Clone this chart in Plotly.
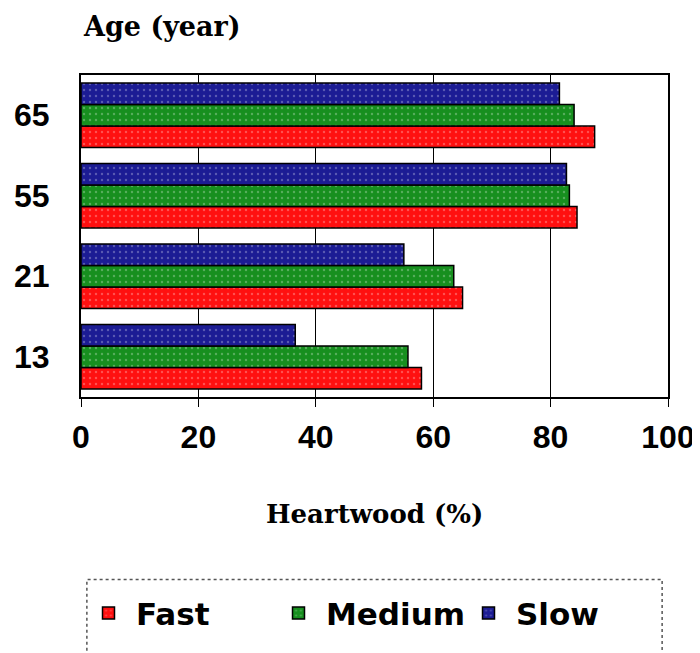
import plotly.graph_objects as go

ages = ["13", "21", "55", "65"]
fast = [58, 65, 84.5, 87.5]
medium = [55.7, 63.5, 83.2, 84]
slow = [36.5, 55, 82.7, 81.5]
series_names = ["Fast", "Medium", "Slow"]
colors = ["#ff1010", "#178f1f", "#1c1c94"]
x_ticks = [0, 20, 40, 60, 80, 100]

fig = go.Figure()
for name, vals, col in zip(series_names, [fast, medium, slow], colors):
    fig.add_trace(go.Bar(
        y=ages, x=vals, name=name, orientation="h",
        marker=dict(color=col, line=dict(color="black", width=1.5),
                    pattern=dict(shape=".", fgcolor="rgba(255,255,255,0.55)", size=6, solidity=0.12)),
    ))

fig.update_layout(
    width=692, height=645,
    margin=dict(l=73, r=32, t=67, b=248),
    paper_bgcolor="white", plot_bgcolor="white",
    barmode="group", bargap=0.2, bargroupgap=0,
    showlegend=True,
    legend=dict(orientation="h", x=0.0, y=-0.672, xanchor="left", yanchor="middle",
                entrywidth=130, entrywidthmode="pixels", traceorder="normal", itemwidth=45,
                font=dict(family="DejaVu Sans", size=31, color="black", weight="bold"),
                bgcolor="rgba(0,0,0,0)", borderwidth=0),
    xaxis=dict(range=[0, 100], tickvals=x_ticks, showgrid=True, gridcolor="black", gridwidth=1,
               showline=True, linecolor="black", linewidth=2, mirror=True,
               ticks="outside", ticklen=8, tickcolor="black", zeroline=False,
               tickfont=dict(family="Liberation Sans", size=32, color="black", weight="bold"),
               ticklabelstandoff=3, automargin=False),
    yaxis=dict(categoryorder="array", categoryarray=ages, showgrid=False,
               showline=True, linecolor="black", linewidth=2, mirror=True,
               ticks="", ticklabelstandoff=23, automargin=False,
               tickfont=dict(family="Liberation Sans", size=32, color="black", weight="bold")),
    annotations=[
        dict(text="Age (year)", xref="paper", yref="paper", x=0.0, y=1.152,
             xanchor="left", yanchor="middle", showarrow=False,
             font=dict(family="DejaVu Serif", size=27, color="black", weight="bold")),
        dict(text="Heartwood (%)", xref="paper", yref="paper", x=0.5, y=-0.362,
             xanchor="center", yanchor="middle", showarrow=False,
             font=dict(family="DejaVu Serif", size=26, color="black", weight="bold")),
    ],
    shapes=[
        dict(type="rect", xref="paper", yref="paper", x0=0.01, x1=0.99, y0=-0.9, y1=-0.567,
             line=dict(color="#555555", width=1.5, dash="dot"), fillcolor="rgba(0,0,0,0)", layer="below"),
    ],
)

fig.write_html("out.html")
